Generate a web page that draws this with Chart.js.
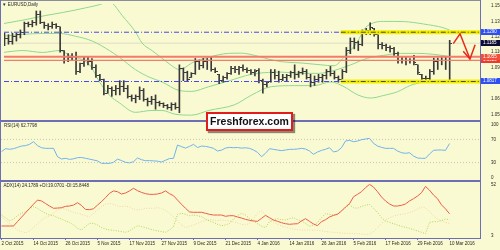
<!DOCTYPE html>
<html>
<head>
<meta charset="utf-8">
<script src="https://cdn.jsdelivr.net/npm/chart.js@4.4.1/dist/chart.umd.min.js"></script>
<style>
  html, body { margin: 0; padding: 0; background: #FAFAD2; }
  #wrap { position: relative; width: 500px; height: 250px; background: #FAFAD2; overflow: hidden;
          font-family: 'Liberation Sans', Arial, sans-serif; }
  #wrap canvas { position: absolute; left: 0; }
  .rule { position: absolute; background: #6e6eb4; }
  .tag { position: absolute; font-size: 4.5px; line-height: 1; color: #262626; white-space: nowrap; }
  #logo { position: absolute; left: 206px; top: 112px; width: 87px; height: 19px; box-sizing: border-box;
          border: 2px solid #e01c1c; background: #fff; box-shadow: 2px 2px 1px rgba(0,0,0,0.45);
          font: bold 10.5px 'Liberation Sans', Arial, sans-serif; color: #111; text-align: center; line-height: 15px; }
</style>
</head>
<body>
<div id="wrap">
  <canvas id="priceChart" width="500" height="121" style="top:0"></canvas>
  <canvas id="rsiChart" width="500" height="60" style="top:121px"></canvas>
  <canvas id="adxChart" width="500" height="69" style="top:181px"></canvas>

  <div class="rule" style="left:0;top:0;width:481px;height:1px;background:#8c8c9c"></div>
  <div class="rule" style="left:0;top:0;width:1px;height:239px"></div>
  <div class="rule" style="left:480px;top:0;width:1px;height:239px"></div>
  <div class="rule" style="left:0;top:120px;width:481px;height:2px"></div>
  <div class="rule" style="left:0;top:180px;width:481px;height:2px"></div>

  <div class="tag" style="left:2px;top:2.5px">&#9660; EURUSD,Daily</div>
  <div class="tag" style="left:4px;top:123.5px">RSI(14) 62.7798</div>
  <div class="tag" style="left:3.5px;top:184px">ADX(14) 24.1789 +DI:19.0701 -DI:15.8448</div>
  <div id="logo">Freshforex.com</div>
</div>

<script>
// daily bars, 2 Oct 2015 .. 10 Mar 2016 (bar index 0..112)
const opens = [
  1.1187, 1.1233, 1.1205, 1.1251, 1.1269, 1.1287, 1.1369, 1.1360, 1.1388, 1.1461,
  1.1388, 1.1351, 1.1342, 1.1360, 1.1342, 1.1114, 1.1023, 1.1050, 1.1059, 1.0913,
  1.0986, 1.1023, 1.1005, 1.0950, 1.0877, 1.0840, 1.0704, 1.0749, 1.0731, 1.0749,
  1.0767, 1.0749, 1.0676, 1.0658, 1.0676, 1.0731, 1.0640, 1.0622, 1.0640, 1.0612,
  1.0603, 1.0585, 1.0567, 1.0594, 1.0567, 1.0941, 1.0904, 1.0859, 1.0895, 1.1005,
  1.0968, 1.1005, 1.1023, 1.0932, 1.0886, 1.0822, 1.0859, 1.0895, 1.0941, 1.0932,
  1.0950, 1.0932, 1.0922, 1.0904, 1.0922, 1.0822, 1.0786, 1.0813, 1.0904, 1.0877,
  1.0840, 1.0859, 1.0877, 1.0904, 1.0886, 1.0904, 1.0913, 1.0859, 1.0804, 1.0840,
  1.0859, 1.0877, 1.0913, 1.0895, 1.0859, 1.0840, 1.0913, 1.1114, 1.1205, 1.1187,
  1.1169, 1.1296, 1.1306, 1.1324, 1.1266, 1.1169, 1.1160, 1.1141, 1.1132, 1.1087,
  1.1023, 1.1014, 1.1023, 1.1014, 1.0977, 1.0886, 1.0850, 1.0850, 1.0913, 1.1005,
  1.1023, 1.1014, 1.1023
];
const highs = [
  1.1281, 1.1266, 1.1281, 1.1281, 1.1312, 1.1388, 1.1388, 1.1403, 1.1494, 1.1494,
  1.1388, 1.1372, 1.1388, 1.1372, 1.1342, 1.1114, 1.1084, 1.1084, 1.1099, 1.0993,
  1.1053, 1.1053, 1.1038, 1.0977, 1.0886, 1.0840, 1.0779, 1.0765, 1.0779, 1.0825,
  1.0825, 1.0779, 1.0688, 1.0688, 1.0765, 1.0749, 1.0658, 1.0674, 1.0688, 1.0628,
  1.0612, 1.0597, 1.0612, 1.0612, 1.0977, 1.0947, 1.0916, 1.0902, 1.1038, 1.1023,
  1.1038, 1.1038, 1.1053, 1.0947, 1.0886, 1.0870, 1.0902, 1.0962, 1.0962, 1.0962,
  1.0977, 1.0947, 1.0932, 1.0932, 1.0941, 1.0840, 1.0810, 1.0932, 1.0932, 1.0916,
  1.0886, 1.0886, 1.0916, 1.0977, 1.0916, 1.0947, 1.0932, 1.0886, 1.0870, 1.0886,
  1.0886, 1.0932, 1.0962, 1.0916, 1.0870, 1.0932, 1.1144, 1.1235, 1.1235, 1.1205,
  1.1312, 1.1327, 1.1381, 1.1327, 1.1266, 1.1190, 1.1175, 1.1160, 1.1144, 1.1099,
  1.1053, 1.1053, 1.1038, 1.1068, 1.0977, 1.0886, 1.0870, 1.0932, 1.1041, 1.1041,
  1.1050, 1.1050, 1.1212
];
const lows = [
  1.1160, 1.1175, 1.1175, 1.1205, 1.1235, 1.1266, 1.1342, 1.1342, 1.1358, 1.1372,
  1.1327, 1.1312, 1.1327, 1.1327, 1.1099, 1.0993, 1.1007, 1.1023, 1.0886, 1.0902,
  1.0962, 1.0977, 1.0932, 1.0856, 1.0825, 1.0688, 1.0704, 1.0674, 1.0688, 1.0688,
  1.0719, 1.0658, 1.0628, 1.0612, 1.0643, 1.0628, 1.0582, 1.0597, 1.0551, 1.0582,
  1.0567, 1.0551, 1.0539, 1.0551, 1.0517, 1.0825, 1.0825, 1.0856, 1.0886, 1.0932,
  1.0947, 1.0932, 1.0916, 1.0902, 1.0795, 1.0810, 1.0840, 1.0886, 1.0902, 1.0886,
  1.0916, 1.0902, 1.0886, 1.0870, 1.0804, 1.0704, 1.0765, 1.0810, 1.0840, 1.0810,
  1.0825, 1.0825, 1.0856, 1.0840, 1.0856, 1.0886, 1.0840, 1.0765, 1.0779, 1.0810,
  1.0810, 1.0840, 1.0870, 1.0840, 1.0810, 1.0840, 1.0902, 1.1084, 1.1130, 1.1114,
  1.1160, 1.1266, 1.1266, 1.1251, 1.1130, 1.1130, 1.1114, 1.1099, 1.1068, 1.0993,
  1.0993, 1.0977, 1.0993, 1.0977, 1.0886, 1.0825, 1.0810, 1.0831, 1.0886, 1.0932,
  1.0977, 1.0932, 1.0810
];
const closes = [
  1.1233, 1.1205, 1.1251, 1.1269, 1.1287, 1.1369, 1.1360, 1.1388, 1.1461, 1.1388,
  1.1351, 1.1342, 1.1360, 1.1342, 1.1114, 1.1023, 1.1050, 1.1059, 1.0913, 1.0986,
  1.1023, 1.1005, 1.0950, 1.0877, 1.0840, 1.0704, 1.0749, 1.0731, 1.0749, 1.0767,
  1.0749, 1.0676, 1.0658, 1.0676, 1.0731, 1.0640, 1.0622, 1.0640, 1.0612, 1.0603,
  1.0585, 1.0567, 1.0594, 1.0567, 1.0941, 1.0904, 1.0840, 1.0895, 1.1005, 1.0968,
  1.1005, 1.1023, 1.0932, 1.0913, 1.0822, 1.0859, 1.0895, 1.0941, 1.0932, 1.0950,
  1.0932, 1.0922, 1.0904, 1.0913, 1.0822, 1.0786, 1.0804, 1.0904, 1.0877, 1.0840,
  1.0859, 1.0877, 1.0904, 1.0886, 1.0904, 1.0913, 1.0859, 1.0804, 1.0840, 1.0859,
  1.0877, 1.0913, 1.0895, 1.0859, 1.0840, 1.0913, 1.1114, 1.1205, 1.1187, 1.1169,
  1.1296, 1.1306, 1.1333, 1.1269, 1.1169, 1.1160, 1.1141, 1.1132, 1.1087, 1.1023,
  1.1014, 1.1023, 1.1014, 1.0995, 1.0904, 1.0850, 1.0850, 1.0913, 1.1005, 1.1023,
  1.1014, 1.1023, 1.1185
];

// Bollinger bands as [bar, price]
const upperBand = [
  [-0.4, 1.1372], [4.6, 1.1406], [10.4, 1.1451], [14.6, 1.1479], [20.4, 1.1524], [24.6, 1.1564],
  [25.9, 1.1588], [27.1, 1.1570], [29.6, 1.1451], [32.9, 1.1296], [34.6, 1.1187], [37.1, 1.1114],
  [39.6, 1.1041], [42.1, 1.0968], [43.9, 1.0932], [45.4, 1.0950], [47.1, 1.0995], [51.4, 1.1050],
  [56.4, 1.1087], [59.6, 1.1089], [62.9, 1.1068], [66.4, 1.1032], [69.6, 1.1007], [74.6, 1.0995],
  [79.6, 1.0977], [82.9, 1.0968], [85.4, 1.1050], [88.9, 1.1205], [90.4, 1.1315], [92.1, 1.1369],
  [95.4, 1.1394], [100.4, 1.1392], [105.4, 1.1369], [110.4, 1.1333], [112, 1.1310]
];
const middleBand = [
  [-0.4, 1.1251], [4.6, 1.1269], [9.6, 1.1278], [13.9, 1.1278], [17.9, 1.1251], [22.1, 1.1205],
  [26.4, 1.1114], [28.9, 1.1050], [32.9, 1.0932], [36.4, 1.0859], [39.6, 1.0813], [43.9, 1.0731],
  [47.1, 1.0722], [51.4, 1.0767], [56.4, 1.0822], [62.1, 1.0886], [66.4, 1.0904], [69.6, 1.0907],
  [74.6, 1.0895], [78.9, 1.0895], [82.9, 1.0922], [87.1, 1.0977], [91.4, 1.1041], [95.4, 1.1068],
  [99.6, 1.1087], [103.9, 1.1087], [107.9, 1.1078], [112, 1.1056]
];
const lowerBand = [
  [-0.4, 1.1096], [4.6, 1.1114], [9.6, 1.1096], [13.9, 1.1114], [16.4, 1.1068], [21.4, 1.0977],
  [23.9, 1.0813], [26.4, 1.0685], [28.9, 1.0612], [32.9, 1.0521], [37.1, 1.0539], [39.6, 1.0539],
  [42.9, 1.0503], [47.1, 1.0494], [51.4, 1.0539], [57.9, 1.0594], [62.1, 1.0685], [67.1, 1.0767],
  [72.9, 1.0777], [77.9, 1.0777], [82.1, 1.0813], [85.4, 1.0767], [88.9, 1.0688], [92.1, 1.0658],
  [95.4, 1.0683], [98.9, 1.0719], [102.1, 1.0779], [105.4, 1.0810], [108.9, 1.0816], [112, 1.0810]
];

const rsi = [
  48.9, 54, 53, 54, 56.3, 58.6, 59.2, 61.5, 66.0, 59.2,
  55.7, 54.6, 54.6, 54.6, 40.2, 36.2, 37.4, 35.6, 36.5, 38.5,
  38.9, 37.4, 36, 34.5, 33, 28.7, 28.7, 28.7, 30.5, 36,
  33.5, 30.5, 29.5, 31.6, 38, 35, 33.3, 33.3, 33, 32.5,
  31, 34, 37, 37.4, 60.3, 57.5, 55, 58, 61.5, 56,
  58.5, 58, 56.5, 54.6, 50, 51.5, 55, 56.3, 55.7, 56,
  55, 55.5, 54.6, 51.7, 47.7, 40.2, 46, 54, 52.9, 51.7,
  50.6, 51.7, 52.9, 52.9, 53.4, 54.6, 53.4, 50, 44.3, 48.3,
  51.1, 52.9, 55.7, 48.3, 50, 55.7, 67.2, 68.4, 66, 67.2,
  69.5, 70.7, 71.8, 63.2, 58.6, 56.3, 54.6, 54.6, 54.6, 50,
  47.1, 46, 47.1, 41.4, 37.9, 37.4, 37.4, 44.8, 51.1, 51.7,
  51.7, 51.1, 62.78
];
const adx = [
  13.5, 13.5, 13.5, 13.5, 17.4, 21.2, 25, 28.8, 32.6, 36.2,
  35.4, 33.2, 31, 29, 29.2, 29.5, 30.7, 31, 31.8, 33.9,
  31.5, 28, 27.8, 28.6, 31.8, 34.8, 38.3, 42.1, 44.2, 43.5,
  41.5, 42.4, 44.2, 46.5, 44.4, 42.9, 41.8, 41.2, 41.2, 41.5,
  42.4, 44.2, 41.8, 40, 36.2, 32.5, 29, 25.8, 25.5, 25.5,
  25.5, 24.6, 23.7, 23.1, 23.1, 23.1, 22, 22.5, 22.5, 21.4,
  20.5, 19.3, 18.5, 17.9, 17.6, 20.2, 22.8, 20.8, 18.7, 17.6,
  16.4, 15.5, 15, 15.3, 15.5, 17.9, 19.9, 17.6, 15.3, 13.8,
  17.3, 19, 21.4, 22.8, 23.7, 26.6, 30.1, 33, 39.1, 41.2,
  43.5, 47, 49.9, 47.6, 43.5, 38.9, 35.4, 32.8, 31, 31,
  31.6, 32.8, 35.4, 37.4, 39.7, 42.6, 48.1, 44.9, 40.6, 37.4,
  32, 28.5, 24.18
];
const plusDI = [
  23.1, 20.8, 17.9, 19.6, 22.5, 24.6, 26, 28.4, 30.4, 29,
  26.6, 24.6, 23.1, 22.5, 20.8, 19.6, 17.9, 16.7, 14.4, 11.5,
  10, 12.9, 15.8, 15.8, 14.4, 12.1, 10.9, 10, 9.7, 9.2,
  8.6, 8, 9.2, 11.5, 13.8, 12.9, 12.1, 10.9, 10, 9.2,
  8.6, 8, 10, 12.9, 23.7, 24.6, 23.7, 22.5, 23.1, 22.5,
  21.7, 19.6, 17.9, 16.7, 15, 13.8, 14.4, 15.8, 19.6, 22.5,
  24.6, 23.1, 20.2, 18.1, 15.5, 13.2, 12.1, 17.3, 19, 19.9,
  19, 18.7, 19.9, 20.8, 19, 17.9, 15.8, 13.2, 14.4, 16.4,
  20.8, 24.3, 23.7, 23.1, 24.6, 26.6, 29.5, 32.2, 29.5, 29,
  30.7, 31.6, 32.5, 29, 25.5, 20.8, 17.9, 16.7, 15.5, 14.4,
  13.2, 12.3, 11.5, 10.3, 9.2, 8, 6.8, 16.7, 17.3, 17.3,
  18.4, 19.6, 19.07
];
const minusDI = [
  21.4, 18.7, 15.8, 12.9, 10, 8.6, 7.4, 9.2, 12.1, 15.5,
  18.7, 20.8, 22.5, 24.6, 27.5, 29, 28.4, 26.6, 25.5, 24.6,
  23.7, 22.5, 21.7, 24.6, 27.5, 30.4, 32.5, 33.3, 32.5, 31,
  30.4, 31, 30.1, 28.4, 27.5, 28, 29, 29, 29, 29.5,
  29, 27.2, 24.6, 21.7, 17.9, 14.4, 12.1, 13.2, 14.4, 15.8,
  17.3, 18.4, 19, 18.7, 18.4, 18.7, 18.4, 17.9, 17.3, 16.1,
  15, 14.4, 15.8, 19.6, 24.6, 27.2, 23.1, 18.7, 16.7, 15,
  13.5, 12.6, 11.5, 10.9, 10.3, 10, 10, 10, 9.7, 9.7,
  9.2, 8.6, 8.3, 8, 7.7, 7.4, 7.1, 7.1, 6.8, 6.8,
  6.5, 6.2, 6.2, 8.6, 12.1, 15.8, 18.7, 20.8, 22.2, 23.1,
  23.7, 24.3, 25.2, 26.6, 28.4, 30.1, 29.5, 26, 22.5, 19.6,
  17.9, 16.7, 15.84
];

// horizontal levels and the hand-drawn arrow
const blueLevels = [1.1290, 1.0817];
const redLevels = [1.1055, 1.1020];
const lastPrice = 1.1185;
const zoneStart = 84.6;
const arrowPath = [[112.9, 1.1181], [114.6, 1.1275], [117.1, 1.1032]];
const arrowHead = [[115.4, 1.1108], [117.1, 1.1032], [118.4, 1.1169]];

const tagValues = [1.1290, 1.1185, 1.1020, 1.1055, 1.0817];
const tagColors = ['#2f4ff0', '#0c0c34', '#ee3a2c', '#f0503c', '#2f4ff0'];

const priceTicks = [1.0500, 1.0650, 1.0800, 1.0950, 1.1100, 1.1245, 1.1395, 1.1545];
const rsiTicks = [0, 30, 70, 100];
const rsiLevels = [70, 30];
const adxTicks = [3, 52];
const dateTicks = [0, 8, 16, 24, 32, 40, 48, 56, 64, 72, 80, 88, 96, 104, 112];
const dateLabels = ['2 Oct 2015', '14 Oct 2015', '26 Oct 2015', '5 Nov 2015', '17 Nov 2015',
  '27 Nov 2015', '9 Dec 2015', '21 Dec 2015', '4 Jan 2016', '14 Jan 2016', '26 Jan 2016',
  '5 Feb 2016', '17 Feb 2016', '29 Feb 2016', '10 Mar 2016'];

const FONT = "'Liberation Sans', Arial, sans-serif";
const FRAME = '#6e6eb4';
const BAR = '#3a3a3a';
const X_MIN = -0.125, X_MAX = 119.625;

const series = arr => arr.map((v, i) => ({ x: i, y: v }));
const pairs = arr => arr.map(p => ({ x: p[0], y: p[1] }));
const hline = (v, from) => [{ x: from, y: v }, { x: X_MAX, y: v }];

// edge labels nudged inside the panel like the terminal does
const edgeLabel = (v, k, all) => k === 0 ? [String(v), ''] : (k === all.length - 1 ? ['', String(v)] : String(v));

function tickImage(side) {
    let c = document.createElement('canvas');
    c.width = 5; c.height = 1;
    let g = c.getContext('2d');
    g.fillStyle = BAR;
    g.fillRect(side === 'left' ? 0 : 3, 0, 2, 1);
    return c;
}

function hiddenX() {
    return { type: 'linear', min: X_MIN, max: X_MAX, offset: false, display: false };
}

function rightAxis(min, max, values, fmt) {
    return {
        position: 'right', min: min, max: max,
        afterBuildTicks: s => { s.ticks = values.map(v => ({ value: v })); },
        afterFit: s => { s.width = 20; s.paddingTop = 0; s.paddingBottom = 0; s.paddingLeft = 0; s.paddingRight = 0; },
        grid: { display: false },
        border: { display: false },
        ticks: { autoSkip: false, padding: 3, color: '#1e1e1e', font: { family: FONT, size: 4.5 }, callback: fmt }
    };
}

function line(data, color, width, extra) {
    return Object.assign({
        type: 'line', data: data, borderColor: color, borderWidth: width,
        pointRadius: 0, fill: false, tension: 0
    }, extra || {});
}

const base = {
    responsive: false, animation: false, devicePixelRatio: 1, events: [],
    plugins: { legend: { display: false }, tooltip: { enabled: false } }
};

const priceTags = {
    id: 'priceTags',
    afterDraw(chart) {
        let ctx = chart.ctx, y = chart.scales.y, right = chart.chartArea.right;
        ctx.save();
        ctx.font = '4.5px ' + FONT;
        ctx.textBaseline = 'middle';
        tagValues.forEach((v, k) => {
            let py = y.getPixelForValue(v);
            ctx.fillStyle = tagColors[k];
            ctx.fillRect(right + 1, Math.round(py) - 3, 19, 6);
            ctx.fillStyle = '#ffffff';
            ctx.fillText(v.toFixed(4), right + 3, Math.round(py));
        });
        ctx.restore();
    }
};

let priceSets = [
    line(pairs(arrowPath), '#e52a1e', 1.5, { order: 0 }),
    line(pairs(arrowHead), '#e52a1e', 1.5, { order: 0 })
];
blueLevels.forEach(v => {
    priceSets.push(line(hline(v, zoneStart), '#4a4a28', 1, { borderDash: [5, 2, 1, 2], order: 1 }));
    priceSets.push(line(hline(v, zoneStart), '#f2ee00', 4, { order: 2 }));
    priceSets.push(line(hline(v, X_MIN), '#4646ee', 1, { borderDash: [5, 2, 1, 2], order: 4 }));
});
priceSets.push(line(hline(redLevels[0], X_MIN), '#f47a6a', 2, { order: 3 }));
priceSets.push(line(hline(redLevels[1], X_MIN), '#f47a6a', 1.2, { order: 3 }));
priceSets.push(line(series(opens), BAR, 0, { showLine: false, pointRadius: 2, pointStyle: tickImage('left'), order: 5 }));
priceSets.push(line(series(closes), BAR, 0, { showLine: false, pointRadius: 2, pointStyle: tickImage('right'), order: 5 }));
priceSets.push({
    type: 'bar', order: 6, barThickness: 1, borderWidth: 0, backgroundColor: BAR,
    data: highs.map((h, i) => ({ x: i, y: [lows[i], h] }))
});
[upperBand, middleBand, lowerBand].forEach(b => {
    priceSets.push(line(pairs(b), '#8fd78f', 1, { cubicInterpolationMode: 'monotone', order: 7 }));
});
priceSets.push(line(hline(lastPrice, X_MIN), '#deddc4', 1, { order: 8 }));

new Chart(document.getElementById('priceChart'), {
    type: 'line',
    data: { datasets: priceSets },
    options: Object.assign({}, base, {
        layout: { padding: { left: 1, top: 1, right: 0, bottom: 1 } },
        scales: {
            x: hiddenX(),
            y: rightAxis(1.0476, 1.1561, priceTicks, v => v.toFixed(4))
        }
    }),
    plugins: [priceTags]
});

let rsiSets = [line(series(rsi), '#6fb2ee', 1, { order: 0 })];
rsiLevels.forEach(v => rsiSets.push(line(hline(v, X_MIN), '#c4c4bc', 1, { borderDash: [1, 2], order: 1 })));

new Chart(document.getElementById('rsiChart'), {
    type: 'line',
    data: { datasets: rsiSets },
    options: Object.assign({}, base, {
        layout: { padding: { left: 1, top: 1, right: 0, bottom: 1 } },
        scales: {
            x: hiddenX(),
            y: rightAxis(0, 100, rsiTicks, edgeLabel)
        }
    })
});

new Chart(document.getElementById('adxChart'), {
    type: 'line',
    data: {
        datasets: [
            line(series(adx), '#ee5b48', 1, { order: 0 }),
            line(series(plusDI), '#b4d05a', 1, { borderDash: [1, 1.5], order: 1 }),
            line(series(minusDI), '#ead7a6', 1, { borderDash: [1, 1.5], order: 2 })
        ]
    },
    options: Object.assign({}, base, {
        layout: { padding: { left: 1, top: 1, right: 0, bottom: 0 } },
        scales: {
            x: {
                type: 'linear', min: X_MIN, max: X_MAX, offset: false,
                afterBuildTicks: s => { s.ticks = dateTicks.map(v => ({ value: v })); },
                afterFit: s => { s.height = 12; s.paddingLeft = 0; s.paddingRight = 0; },
                grid: { drawOnChartArea: false, drawTicks: true, tickLength: 2, color: FRAME },
                border: { display: true, color: FRAME },
                ticks: {
                    autoSkip: false, maxRotation: 0, align: 'start', padding: 1,
                    color: '#1e1e1e', font: { family: FONT, size: 4.5 },
                    callback: (v, k) => dateLabels[k]
                }
            },
            y: rightAxis(3, 52, adxTicks, edgeLabel)
        }
    })
});
</script>
</body>
</html>
